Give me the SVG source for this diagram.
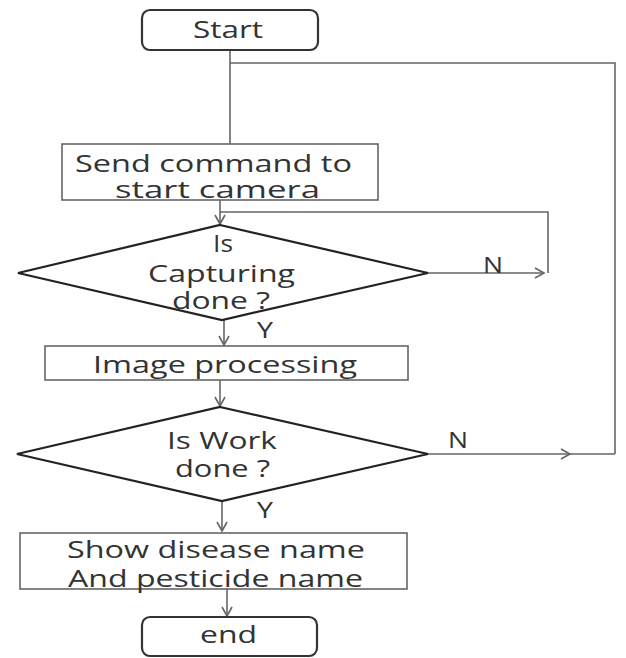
<svg xmlns="http://www.w3.org/2000/svg" width="626" height="658" viewBox="0 0 626 658">
<style>
.t{font-family:"Open Sans","DejaVu Sans",sans-serif;font-size:23px;fill:#333;}
.lbl{font-family:"Open Sans","DejaVu Sans",sans-serif;font-size:21px;fill:#333;}
.term{fill:#fff;stroke:#333;stroke-width:2.2;}
.box{fill:#fff;stroke:#666;stroke-width:1.6;}
.dia{fill:#fff;stroke:#222;stroke-width:2.2;}
.c{fill:none;stroke:#666;stroke-width:1.6;}
</style>
<defs>
<marker id="ah" markerWidth="12" markerHeight="12" refX="10" refY="6" orient="auto" markerUnits="userSpaceOnUse">
<polyline points="1,1 10,6 1,11" fill="none" stroke="#666" stroke-width="1.6"/>
</marker>
</defs>
<rect width="626" height="658" fill="#fff"/>
<g id="connectors">
<line class="c" x1="230" y1="50" x2="230" y2="144"/>
<polyline class="c" points="230,63 615,63 615,454"/>
<line class="c" x1="220" y1="200" x2="220" y2="224" marker-end="url(#ah)"/>
<polyline class="c" points="220,212 548,212 548,273"/>
<line class="c" x1="428" y1="273" x2="544" y2="273" marker-end="url(#ah)"/>
<line class="c" x1="224" y1="320" x2="224" y2="345" marker-end="url(#ah)"/>
<line class="c" x1="220" y1="380" x2="220" y2="406" marker-end="url(#ah)"/>
<line class="c" x1="428" y1="454" x2="570" y2="454" marker-end="url(#ah)"/>
<line class="c" x1="570" y1="454" x2="615" y2="454"/>
<line class="c" x1="222" y1="501" x2="222" y2="531" marker-end="url(#ah)"/>
<line class="c" x1="227" y1="589" x2="227" y2="616" marker-end="url(#ah)"/>
<text class="lbl" x="483" y="273" textLength="20" lengthAdjust="spacingAndGlyphs">N</text>
<text class="lbl" x="257" y="338" textLength="16" lengthAdjust="spacingAndGlyphs">Y</text>
<text class="lbl" x="448" y="448" textLength="20" lengthAdjust="spacingAndGlyphs">N</text>
<text class="lbl" x="257" y="518" textLength="16" lengthAdjust="spacingAndGlyphs">Y</text>
</g>
<g id="start">
<rect class="term" x="142" y="10" width="176" height="40" rx="8"/>
<text class="t" x="193" y="38" textLength="70" lengthAdjust="spacingAndGlyphs">Start</text>
</g>
<g id="send">
<rect class="box" x="62" y="144" width="316" height="56"/>
<text class="t" x="75" y="172" textLength="277" lengthAdjust="spacingAndGlyphs">Send command to</text>
<text class="t" x="115" y="198" textLength="205" lengthAdjust="spacingAndGlyphs">start camera</text>
</g>
<g id="capturing">
<polygon class="dia" points="220,225 428,273 222,320 18,273"/>
<text class="t" x="213" y="252" textLength="20" lengthAdjust="spacingAndGlyphs">Is</text>
<text class="t" x="148" y="282" textLength="147" lengthAdjust="spacingAndGlyphs">Capturing</text>
<text class="t" x="172" y="309" textLength="98" lengthAdjust="spacingAndGlyphs">done ?</text>
</g>
<g id="processing">
<rect class="box" x="45" y="346" width="363" height="34"/>
<text class="t" x="93" y="373" textLength="264" lengthAdjust="spacingAndGlyphs">Image processing</text>
</g>
<g id="work">
<polygon class="dia" points="220,407 428,454 222,501 17,454"/>
<text class="t" x="167" y="449" textLength="110" lengthAdjust="spacingAndGlyphs">Is Work</text>
<text class="t" x="175" y="477" textLength="95" lengthAdjust="spacingAndGlyphs">done ?</text>
</g>
<g id="show">
<rect class="box" x="20" y="533" width="387" height="56"/>
<text class="t" x="67" y="558" textLength="298" lengthAdjust="spacingAndGlyphs">Show disease name</text>
<text class="t" x="68" y="587" textLength="295" lengthAdjust="spacingAndGlyphs">And pesticide name</text>
</g>
<g id="end">
<rect class="term" x="142" y="617" width="175" height="39" rx="8"/>
<text class="t" x="200" y="643" textLength="57" lengthAdjust="spacingAndGlyphs">end</text>
</g>
</svg>
